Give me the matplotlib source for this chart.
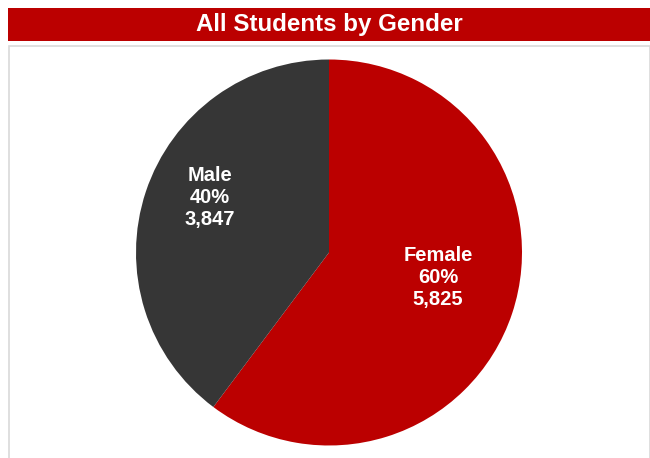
import numpy as np
import matplotlib.pyplot as plt
from matplotlib.patches import Rectangle

plt.rcParams['font.family'] = ['Liberation Sans', 'DejaVu Sans']

# data
genders = ['Female', 'Male']
counts = [5825, 3847]
colors = ['#BB0000', '#363636']

# label placement (radius as fraction of pie, angle shift in degrees)
label_r = [0.58, 0.68]
label_shift = [5.3, -6.2]

W, H = 650, 458
fig = plt.figure(figsize=(W / 100, H / 100), dpi=100)
fig.patch.set_facecolor('white')

# title bar
fig.patches.append(Rectangle((8 / W, 1 - 41 / H), 1 - 8 / W, 33 / H,
                             transform=fig.transFigure, facecolor='#BB0000',
                             edgecolor='none', zorder=0))
fig.text(329.5 / W, 1 - 24.5 / H, 'All Students by Gender', color='white',
         fontsize=17.4, fontweight='bold', ha='center', va='center')

# panel border
fig.patches.append(Rectangle((8.5 / W, -0.01), 641 / W, (458 - 46) / H + 0.01,
                             transform=fig.transFigure, facecolor='none',
                             edgecolor='#D9D9D9', linewidth=1.2, zorder=0))

ax = fig.add_axes([136 / W, 12.5 / H, 386 / W, 386 / H])
wedges, _ = ax.pie(counts, colors=colors, startangle=90, counterclock=False,
                   radius=1, wedgeprops=dict(linewidth=0))
ax.set_xlim(-1, 1)
ax.set_ylim(-1, 1)
ax.set_aspect('equal')
ax.axis('off')

total = sum(counts)
for w, name, n, r, s in zip(wedges, genders, counts, label_r, label_shift):
    mid = np.deg2rad((w.theta1 + w.theta2) / 2 + s)
    txt = '{}\n{:.0f}%\n{:,}'.format(name, 100 * n / total, n)
    ax.text(r * np.cos(mid), r * np.sin(mid), txt, color='white',
            fontsize=14.5, fontweight='bold', ha='center', va='center',
            linespacing=1.2)

fig.savefig('out.png', dpi=100)
